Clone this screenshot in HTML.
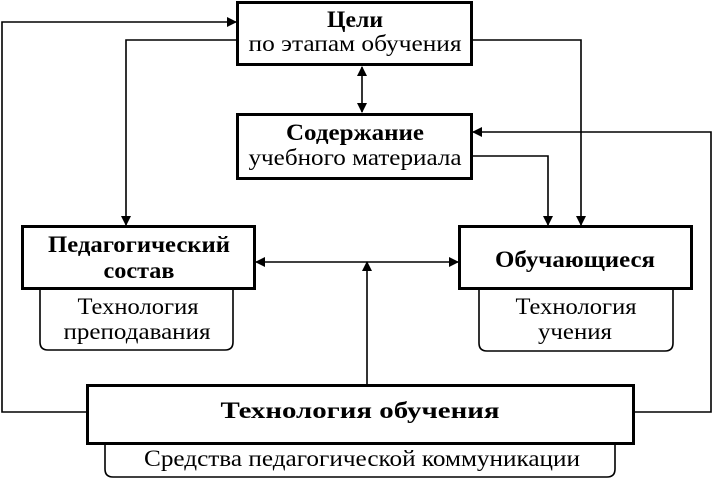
<!DOCTYPE html>
<html><head><meta charset="utf-8"><style>body{margin:0;background:#fff}svg{display:block}</style></head>
<body>
<svg width="714" height="481" viewBox="0 0 714 481" xmlns="http://www.w3.org/2000/svg" font-family="'Liberation Serif',serif" text-anchor="middle">
<defs><marker id="a" markerWidth="10" markerHeight="10" refX="9" refY="5" orient="auto" markerUnits="userSpaceOnUse"><path d="M0,0 L10,5 L0,10 Z" fill="#000"/></marker></defs>
<g fill="none" stroke="#000" stroke-width="1.6">
<polyline points="87,412 2,412 2,22 236,22" marker-end="url(#a)"/>
<polyline points="237,40 126,40 126,225" marker-end="url(#a)"/>
<polyline points="472,40 581,40 581,225" marker-end="url(#a)"/>
<polyline points="472,156 548,156 548,225" marker-end="url(#a)"/>
<polyline points="634,412 711,412 711,132 473,132" marker-end="url(#a)"/>
<line x1="362" y1="90" x2="362" y2="112" marker-end="url(#a)"/>
<line x1="362" y1="90" x2="362" y2="67" marker-end="url(#a)"/>
<line x1="360" y1="262" x2="256" y2="262" marker-end="url(#a)"/>
<line x1="360" y1="262" x2="458" y2="262" marker-end="url(#a)"/>
<line x1="367" y1="385" x2="367" y2="262" marker-end="url(#a)"/>
<path d="M40,289 V342 Q40,350 48,350 H225 Q233,350 233,342 V289"/>
<path d="M479,289 V343 Q479,351 487,351 H665 Q673,351 673,343 V289"/>
<path d="M105,444 V469 Q105,477 113,477 H607 Q615,477 615,469 V444"/>
</g>
<g fill="#fff" stroke="#000" stroke-width="3">
<rect x="237.5" y="2.5" width="234" height="62"/>
<rect x="237.5" y="114.5" width="234" height="64"/>
<rect x="22.5" y="226.5" width="232" height="62"/>
<rect x="459.5" y="226.5" width="232" height="62"/>
<rect x="87.5" y="385.5" width="546" height="58"/>
</g>
<g font-size="23" lengthAdjust="spacingAndGlyphs">
<text x="355" y="27" font-weight="bold" textLength="56" lengthAdjust="spacingAndGlyphs">Цели</text>
<text x="355" y="51" textLength="213" lengthAdjust="spacingAndGlyphs">по этапам обучения</text>
<text x="355" y="140" font-weight="bold" textLength="138" lengthAdjust="spacingAndGlyphs">Содержание</text>
<text x="355" y="165" textLength="213" lengthAdjust="spacingAndGlyphs">учебного материала</text>
<text x="139" y="252" font-weight="bold" textLength="182" lengthAdjust="spacingAndGlyphs">Педагогический</text>
<text x="139" y="278" font-weight="bold" textLength="71" lengthAdjust="spacingAndGlyphs">состав</text>
<text x="575" y="267" font-weight="bold" textLength="160" lengthAdjust="spacingAndGlyphs">Обучающиеся</text>
<text x="138" y="314" textLength="121" lengthAdjust="spacingAndGlyphs">Технология</text>
<text x="137" y="339" textLength="147" lengthAdjust="spacingAndGlyphs">преподавания</text>
<text x="576" y="314" textLength="121" lengthAdjust="spacingAndGlyphs">Технология</text>
<text x="575" y="339" textLength="74" lengthAdjust="spacingAndGlyphs">учения</text>
<text x="360" y="418" font-weight="bold" textLength="279" lengthAdjust="spacingAndGlyphs">Технология обучения</text>
<text x="362" y="466" textLength="436" lengthAdjust="spacingAndGlyphs">Средства педагогической коммуникации</text>
</g>
</svg>
</body></html>
